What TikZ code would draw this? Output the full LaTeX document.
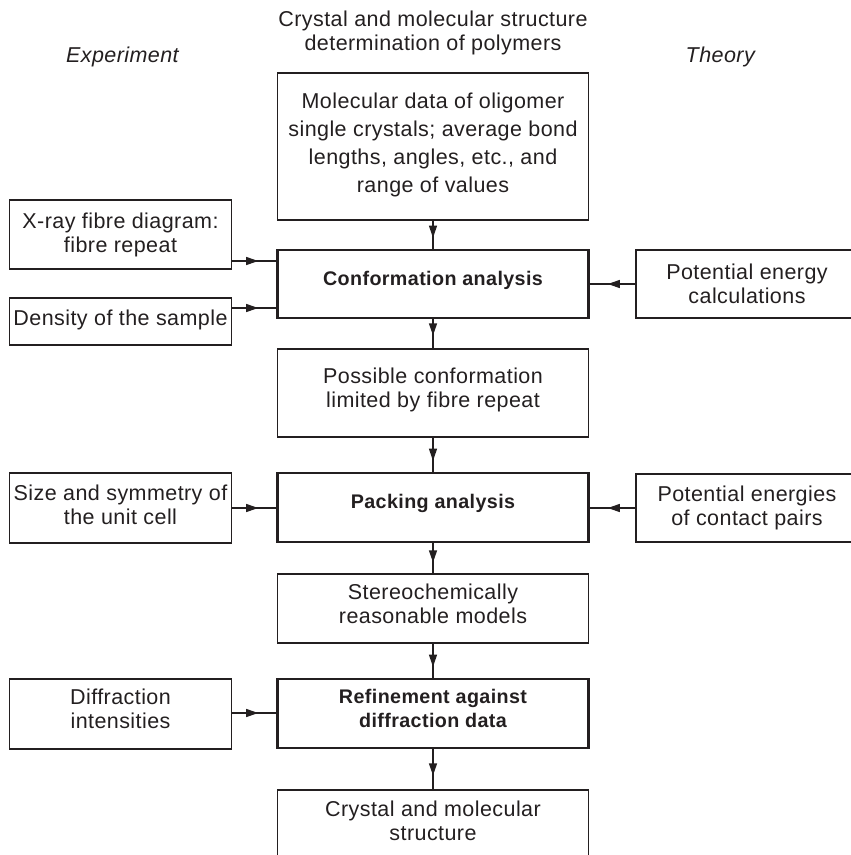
\documentclass[tikz,border=0pt]{standalone}
\usepackage{fontspec}
\setmainfont{Liberation Sans}[LetterSpace=2]
\usepackage{tikz}
\usetikzlibrary{arrows.meta,decorations.markings}

\definecolor{ink}{RGB}{35,31,32}

\tikzset{
  plainbox/.style={draw=ink, line width=1.2pt, text=ink, align=center, inner sep=2pt},
  mainbox/.style={plainbox, minimum width=311pt},
  sidebox/.style={plainbox, minimum width=222pt},
  keybox/.style={mainbox, line width=2.6pt, font=\fontsize{19.7}{24}\selectfont\bfseries},
  flow/.style={color=ink, line width=1.2pt, postaction={decorate},
    decoration={markings, mark=at position #1 with {\arrow{Triangle[length=12pt,width=8pt]}}}},
  flow/.default=-11pt
}

\begin{document}
\begin{tikzpicture}[x=1pt,y=-1pt,font=\fontsize{21.5}{24}\selectfont]
    \useasboundingbox (0,0) rectangle (851,855);

    % headings
    \node (title) [text=ink, align=center] at (433,33) {Crystal and molecular structure\\determination of polymers};
    \node (expt) [text=ink] at (123,57) {\textit{Experiment}};
    \node (theory) [text=ink] at (721,57) {\textit{Theory}};

    % middle column
    \node (oligo) [mainbox, minimum height=147pt, font=\fontsize{21.5}{28}\selectfont] at (433,146.5) {Molecular data of oligomer\\single crystals; average bond\\lengths, angles, etc., and\\range of values\rule[-8pt]{0pt}{8pt}};
    \node (conf) [keybox, minimum height=68pt] at (433,284) {Conformation analysis\rule[-12pt]{0pt}{12pt}};
    \node (poss) [mainbox, minimum height=88pt] at (433,393) {Possible conformation\\limited by fibre repeat\rule[-10pt]{0pt}{10pt}};
    \node (pack) [keybox, minimum height=69pt] at (433,507.5) {Packing analysis\rule[-12pt]{0pt}{12pt}};
    \node (stereo) [mainbox, minimum height=69pt] at (433,608.5) {Stereochemically\\reasonable models\rule[-10pt]{0pt}{10pt}};
    \node (refine) [keybox, minimum height=69pt] at (433,713.5) {Refinement against\\diffraction data\rule[-10pt]{0pt}{10pt}};
    \node (result) [mainbox, minimum height=69pt] at (433,824.5) {Crystal and molecular\\structure\rule[-8pt]{0pt}{8pt}};

    % experiment side
    \node (xray) [sidebox, minimum height=69pt] at (120.5,234.5) {X-ray fibre diagram:\\fibre repeat};
    \node (dens) [sidebox, minimum height=47pt] at (120.5,321.5) {Density of the sample\rule[-8pt]{0pt}{8pt}};
    \node (cell) [sidebox, minimum height=70pt] at (120.5,508) {Size and symmetry of\\the unit cell\rule[-6pt]{0pt}{6pt}};
    \node (diffr) [sidebox, minimum height=70pt] at (120.5,714) {Diffraction\\intensities\rule[-10pt]{0pt}{10pt}};

    % theory side
    \node (pot) [sidebox, minimum height=68pt] at (747,284) {Potential energy\\calculations};
    \node (contact) [sidebox, minimum height=68pt] at (747,508) {Potential energies\\of contact pairs};

    % flow down the middle
    \draw [flow] (oligo) -- (conf);
    \draw [flow=-13pt] (conf) -- (poss);
    \draw [flow] (poss) -- (pack);
    \draw [flow] (pack) -- (stereo);
    \draw [flow] (stereo) -- (refine);
    \draw [flow=-14pt] (refine) -- (result);

    % inputs from the sides
    \draw [flow=-18pt] (xray.east |- 0,261) -- (conf.west |- 0,261);
    \draw [flow=-18pt] (dens.east |- 0,308) -- (conf.west |- 0,308);
    \draw [flow=-18pt] (pot.west) -- (conf.east);
    \draw [flow=-18pt] (cell.east) -- (pack.west |- cell.east);
    \draw [flow=-18pt] (contact.west) -- (pack.east |- contact.west);
    \draw [flow=-18pt] (diffr.east |- 0,713) -- (refine.west |- 0,713);

\end{tikzpicture}
\end{document}
